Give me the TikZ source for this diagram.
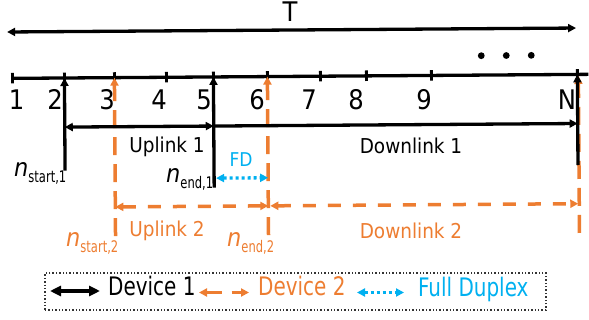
\documentclass[tikz,border=0pt]{standalone}
\usepackage{fontspec}
\setmainfont{DejaVu Sans Condensed}
\newfontfamily\subfont[FakeStretch=0.8]{DejaVu Sans Condensed}
\newfontfamily\legfont[FakeStretch=0.87]{DejaVu Sans Condensed}
\usetikzlibrary{arrows.meta}
\definecolor{devorange}{HTML}{ED7D31}
\definecolor{fdblue}{HTML}{00B0F0}
% italic n with a compressed subscript
\newcommand{\nlabel}[2]{{\fontsize{25}{25}\selectfont\itshape n}{\subfont\fontsize{16}{16}\selectfont\raisebox{-6pt}{#1,#2}}}
\begin{document}
\begin{tikzpicture}[x=1pt,y=-1pt,
  blk/.style={line width=3.3pt,black},
  org/.style={line width=3.5pt,devorange,dash pattern=on 13pt off 12pt},
  orgv/.style={line width=3.5pt,devorange,dash pattern=on 18pt off 9pt},
  fdl/.style={line width=3.3pt,fdblue,dash pattern=on 3pt off 3pt},
  tipk/.style={-{Triangle[length=8pt,width=8pt]}},
  dtipk/.style={{Triangle[length=8pt,width=8pt]}-{Triangle[length=8pt,width=8pt]}},
  ltipk/.style={{Triangle[length=11pt,width=10pt]}-{Triangle[length=11pt,width=10pt]}},
  tick/.style={line width=2.8pt,black},
  num/.style={anchor=base,font=\fontsize{27}{27}\selectfont,inner sep=0pt},
  lbl/.style={anchor=base,font=\fontsize{20.5}{20.5}\selectfont,inner sep=0pt},
  nlb/.style={anchor=base west,inner sep=0pt},
  leg/.style={anchor=base west,font=\legfont\fontsize{25.5}{25.5}\selectfont,inner sep=0pt}]
\useasboundingbox (0,0) rectangle (589,320);

\begin{scope}[rotate around={0.4:(294,160)}]
% total period T
\coordinate (tl) at (8,30);
\coordinate (tr) at (577,30);
\draw[blk,dtipk] (tl) -- (tr);

% time axis with slot ticks
\coordinate (ax0) at (13,76.4);
\coordinate (ax1) at (589,76.4);
\draw[blk] (ax0) -- (ax1);
\foreach \n/\x in {1/13,2/65,3/115,4/167,5/214,6/268,7/321,8/367,9/432,N/578}{
  \coordinate (t\n) at (\x,76.4);
  \draw[tick] (\x,71) -- (\x,81.5);
}
\foreach \x in {482,507,532}{ \fill (\x,57) circle (3.4pt); }

% device 2 slot markers
\coordinate (s2b) at (115,235);
\coordinate (e2b) at (268,235);
\coordinate (N2b) at (579,235);
\coordinate (N2t) at (579,78);
\draw[orgv,tipk] (s2b) -- (t3);
\draw[orgv,tipk] (e2b) -- (t6);
\draw[orgv,tipk] (N2b) -- (N2t);

% device 1 slot markers
\coordinate (s1b) at (65,169);
\coordinate (e1b) at (214,187);
\coordinate (N1b) at (578,167);
\draw[blk,tipk] (s1b) -- (t2);
\draw[blk,tipk] (e1b) -- (t5);
\draw[blk,tipk] (N1b) -- (tN);

% device 1 periods
\coordinate (u1a) at (65,125.5);
\coordinate (u1b) at (214,125.5);
\coordinate (d1b) at (578,125.5);
\draw[blk,dtipk] (u1a) -- (u1b);
\draw[blk,tipk] (u1b) -- (d1b);

% full duplex overlap
\coordinate (fda) at (216,177.6);
\coordinate (fdb) at (268,177.6);
\draw[fdl,dtipk] (fda) -- (fdb);

% device 2 periods
\coordinate (u2a) at (115,205.7);
\coordinate (u2b) at (268,205.7);
\coordinate (d2a) at (270,205.7);
\coordinate (d2b) at (578,205.7);
\draw[org,dtipk] (u2a) -- (u2b);
\draw[org,dtipk] (d2a) -- (d2b);
\end{scope}

% texts
\node[num] (T) at (290,22) {T};
\foreach \n/\x in {1/16.5,2/55,3/107,4/159,5/204,6/257,7/309,8/356,9/424,N/567}{
  \node[num] (l\n) at (\x,110) {\n};
}
\node[lbl] (up1) at (167,153) {Uplink 1};
\node[lbl] (dn1) at (411,154) {Downlink 1};
\node[lbl,fdblue,font=\fontsize{19}{19}\selectfont] (fd) at (241,167) {FD};
\node[lbl,devorange] (up2) at (167,237) {Uplink 2};
\node[lbl,devorange] (dn2) at (411,239) {Downlink 2};

\node[nlb] (ns1) at (14,177) {\nlabel{start}{1}};
\node[nlb] (ne1) at (166,183) {\nlabel{end}{1}};
\node[nlb,devorange] (ns2) at (66,247) {\nlabel{start}{2}};
\node[nlb,devorange] (ne2) at (227,247) {\nlabel{end}{2}};

% legend
\node[draw=black!80,dotted,line width=1.4pt,minimum width=501pt,minimum height=37pt,inner sep=0pt] (box) at (295.5,291.5) {};
\coordinate (k1a) at (50,291);
\coordinate (k1b) at (100,291);
\draw[blk,ltipk] (k1a) -- (k1b);
\node[leg] (dev1) at (108,296) {Device 1};
\coordinate (k2a) at (199,292.5);
\coordinate (k2b) at (249,292.5);
\draw[org,dash pattern=on 15pt off 10pt,dtipk] (k2a) -- (k2b);
\node[leg,devorange] (dev2) at (258,296) {Device 2};
\coordinate (k3a) at (357,292.5);
\coordinate (k3b) at (404,292.5);
\draw[fdl,dtipk] (k3a) -- (k3b);
\node[leg,fdblue] (fdx) at (418,297) {Full Duplex};
\end{tikzpicture}
\end{document}
